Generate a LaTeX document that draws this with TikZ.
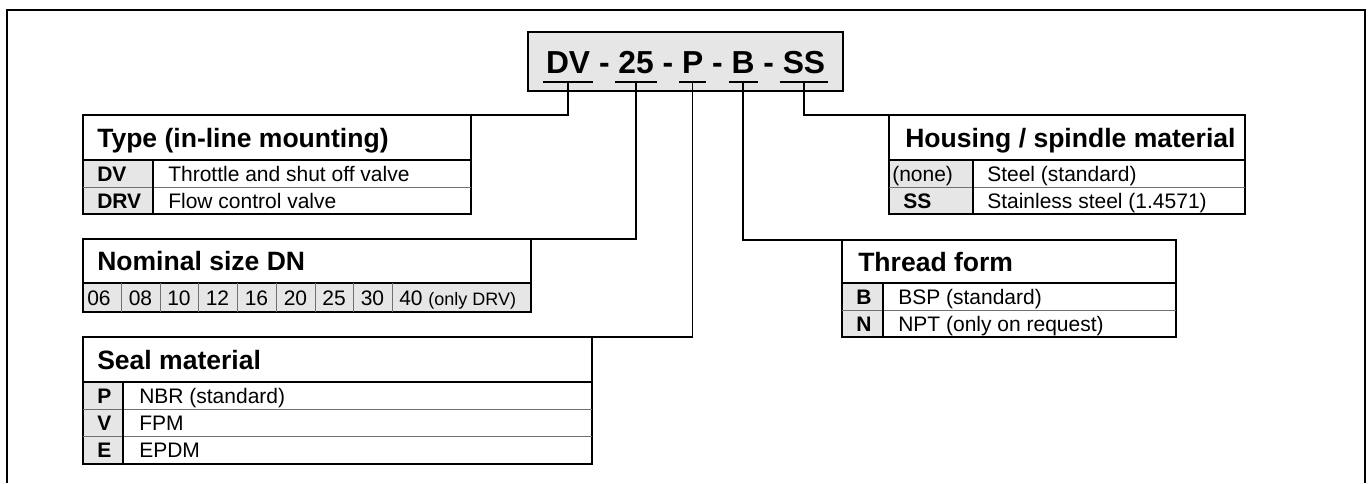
\documentclass[tikz,border=0pt]{standalone}
\usepackage{fontspec}
\setmainfont{Liberation Sans}
\newcommand\PX[1]{#1*0.75pt}
\newcommand\tdash{\kern0pt\ -\ \kern0pt}
\definecolor{keygray}{HTML}{E6E6E6}
\definecolor{sepgray}{HTML}{707070}
\newcommand\fTitle{\fontsize{23.85pt}{28pt}\selectfont\bfseries}
\newcommand\fHead{\fontsize{19.9pt}{24pt}\selectfont\bfseries}
\newcommand\fBody{\fontsize{15.75pt}{19pt}\selectfont}
\newcommand\fSmall{\fontsize{13.5pt}{16pt}\selectfont}
\tikzset{
  frameline/.style={line width=1.5pt},
  box/.style={draw, line width=1.1pt, anchor=north west, inner sep=0pt, outer sep=0pt},
  titlebox/.style={box, fill=keygray},
  keycell/.style={fill=keygray, anchor=north west, inner sep=0pt, outer sep=0pt},
  hsep/.style={line width=1.1pt},
  rsep/.style={line width=0.6pt, draw=sepgray},
  ksep/.style={line width=1.1pt},
  conn/.style={line width=1.1pt},
  uline/.style={line width=1.1pt},
  tt/.style={font=\fTitle, anchor=base west, inner sep=0pt, outer sep=0pt},
  head/.style={font=\fHead, anchor=west, inner sep=0pt, text height=14.25pt, text depth=0pt},
  body/.style={font=\fBody, anchor=west, inner sep=0pt, text height=11.28pt, text depth=0pt},
  bodyc/.style={body, anchor=center},
  bkey/.style={body, font=\fBody\bfseries},
}
\begin{document}
\begin{tikzpicture}[x=0.75pt, y=-0.75pt]
\useasboundingbox (0,0) rectangle (1372,483);
% outer frame
\draw[frameline] (7,483) -- (7,10) -- (1365,10) -- (1365,483);

% title
\node[titlebox, minimum width=\PX{315}, minimum height=\PX{59}] (title) at (528,32) {};
\node[tt] (tDV) at (546,73) {DV};
\node[tt] (d1) at (tDV.base east) {\tdash};
\node[tt] (t25) at (d1.base east) {25};
\node[tt] (d2) at (t25.base east) {\tdash};
\node[tt] (tP) at (d2.base east) {P};
\node[tt] (d3) at (tP.base east) {\tdash};
\node[tt] (tB) at (d3.base east) {B};
\node[tt] (d4) at (tB.base east) {\tdash};
\node[tt] (tSS) at (d4.base east) {SS};
\foreach \n in {tDV,t25,tP,tB,tSS}{
  \draw[uline] ([xshift=-\PX{3},yshift=-\PX{9}]\n.base west) -- ([xshift=\PX{3},yshift=-\PX{9}]\n.base east);
}

% Type table
\node[keycell, minimum width=\PX{70}, minimum height=\PX{54}] (typeKey) at (83,160) {};
\node[box, minimum width=\PX{388}, minimum height=\PX{99}] (type) at (83,115) {};
\draw[hsep] (83,160) -- (471,160);
\draw[rsep] (83,187) -- (471,187);
\draw[ksep] (153,160) -- (153,214);
\node[head] (typeH) at (97,137.5) {Type (in-line mounting)};
\node[bkey] (typeK1) at (97,173.5) {DV};
\node[body] (typeV1) at (168,173.5) {Throttle and shut off valve};
\node[bkey] (typeK2) at (97,200.5) {DRV};
\node[body] (typeV2) at (168,200.5) {Flow control valve};

% Nominal size table
\node[keycell, minimum width=\PX{448}, minimum height=\PX{29}] (nomRow) at (83,283) {};
\node[box, minimum width=\PX{448}, minimum height=\PX{73}] (nom) at (83,239) {};
\draw[hsep] (83,283) -- (531,283);
\foreach \x in {121,160,198,237,276,315,353,392}{\draw[rsep] (\x,283) -- (\x,312);}
\node[bodyc] (n06) at (99,297.5) {06};
\node[bodyc] (n08) at (140.5,297.5) {08};
\node[bodyc] (n10) at (179,297.5) {10};
\node[bodyc] (n12) at (217.5,297.5) {12};
\node[bodyc] (n16) at (256.5,297.5) {16};
\node[bodyc] (n20) at (295.5,297.5) {20};
\node[bodyc] (n25) at (334,297.5) {25};
\node[bodyc] (n30) at (372.5,297.5) {30};
\node[body] (n40) at (399,297.5) {40 {\fSmall (only DRV)}};
\node[head] (nomH) at (97,261) {Nominal size DN};

% Seal material table
\node[keycell, minimum width=\PX{40}, minimum height=\PX{82}] (sealKey) at (83,382) {};
\node[box, minimum width=\PX{509}, minimum height=\PX{127}] (seal) at (83,337) {};
\draw[hsep] (83,382) -- (592,382);
\draw[rsep] (83,409) -- (592,409);
\draw[rsep] (83,436) -- (592,436);
\draw[ksep] (123,382) -- (123,464);
\node[head] (sealH) at (97,359.5) {Seal material};
\node[bkey] (sealK1) at (97,395.5) {P};
\node[body] (sealV1) at (139,395.5) {NBR (standard)};
\node[bkey] (sealK2) at (97,422.5) {V};
\node[body] (sealV2) at (139,422.5) {FPM};
\node[bkey] (sealK3) at (97,450) {E};
\node[body] (sealV3) at (139,450) {EPDM};

% Housing table
\node[keycell, minimum width=\PX{84}, minimum height=\PX{54}] (housKey) at (889,160) {};
\node[box, minimum width=\PX{356}, minimum height=\PX{99}] (hous) at (889,115) {};
\draw[hsep] (889,160) -- (1245,160);
\draw[rsep] (889,187) -- (1245,187);
\draw[ksep] (973,160) -- (973,214);
\node[head] (housH) at (905,137.5) {Housing / spindle material};
\node[body] (housK1) at (892,173.5) {(none)};
\node[body] (housV1) at (987,173.5) {Steel (standard)};
\node[bkey] (housK2) at (903,200.5) {SS};
\node[body] (housV2) at (987,200.5) {Stainless steel (1.4571)};

% Thread table
\node[keycell, minimum width=\PX{41}, minimum height=\PX{54}] (thrKey) at (842,283) {};
\node[box, minimum width=\PX{334}, minimum height=\PX{97}] (thr) at (842,240) {};
\draw[hsep] (842,283) -- (1176,283);
\draw[rsep] (842,310) -- (1176,310);
\draw[ksep] (883,283) -- (883,337);
\node[head] (thrH) at (858,261.5) {Thread form};
\node[bkey] (thrK1) at (856,296.5) {B};
\node[body] (thrV1) at (898,296.5) {BSP (standard)};
\node[bkey] (thrK2) at (856,323.5) {N};
\node[body] (thrV2) at (898,323.5) {NPT (only on request)};

% connectors
\draw[conn] ([yshift=-\PX{9}]tDV.base) |- (type.north west);
\draw[conn] ([yshift=-\PX{9}]t25.base) |- (nom.north west);
\draw[conn] ([yshift=-\PX{9}]tP.base) |- (seal.north west);
\draw[conn] ([yshift=-\PX{9}]tB.base) |- (thr.north east);
\draw[conn] ([yshift=-\PX{9}]tSS.base) |- (hous.north east);
\end{tikzpicture}
\end{document}
